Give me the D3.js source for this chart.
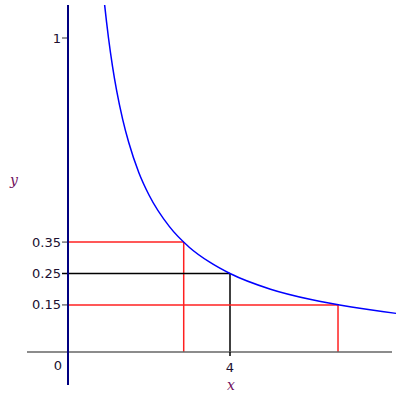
<!DOCTYPE html>
<html>
<head>
<meta charset="utf-8">
<script src="https://cdn.jsdelivr.net/npm/d3@7"></script>
<style>
  body { margin: 0; background: #fff; }
  text { font-family: "DejaVu Sans", Verdana, sans-serif; font-size: 13px; fill: #201030; }
  .axlabel { font-style: italic; fill: #701060; font-family: "DejaVu Serif", serif; font-size: 14px; }
</style>
</head>
<body>
<script>
// curve points (y = 1/x)
var curveX = [0.905, 0.95, 1, 1.1, 1.2, 1.35, 1.5, 1.75, 2, 2.5, 3, 3.5, 4, 5, 6, 7, 8.1];
var curveY = [1.105, 1.053, 1, 0.909, 0.833, 0.741, 0.667, 0.571, 0.5, 0.4, 0.333, 0.286, 0.25, 0.2, 0.167, 0.143, 0.123];

// guide lines
var guideX = [2.857, 4, 6.667];
var guideY = [0.35, 0.25, 0.15];
var guideCol = ["#ff2020", "#000", "#ff2020"];

// tick labels
var yTicks = [0.15, 0.25, 0.35, 1];
var yTickLabels = ["0.15", "0.25", "0.35", "1"];
var xTicks = [4];
var xTickLabels = ["4"];

var width = 400, height = 400;

var svg = d3.select("body").append("svg")
	.attr("width", width)
	.attr("height", height);

// scales: 0 -> 68px, 4 -> 230px ; 0 -> 352px, 1 -> 38px
var x = d3.scaleLinear().domain([0, 4]).range([68, 230]);
var y = d3.scaleLinear().domain([0, 1]).range([352, 38]);

// guide lines
guideX.forEach(function(gx, i) {
	svg.append("line")
		.attr("x1", x(0)).attr("x2", x(gx))
		.attr("y1", y(guideY[i])).attr("y2", y(guideY[i]))
		.attr("stroke", guideCol[i]).attr("stroke-width", 1.5);
	svg.append("line")
		.attr("x1", x(gx)).attr("x2", x(gx))
		.attr("y1", y(guideY[i])).attr("y2", y(0))
		.attr("stroke", guideCol[i]).attr("stroke-width", 1.5);
});

// x axis
svg.append("line")
	.attr("x1", 27).attr("x2", 392)
	.attr("y1", y(0)).attr("y2", y(0))
	.attr("stroke", "#666").attr("stroke-width", 1.5);

// x ticks
svg.selectAll(".xtick")
	.data(xTicks)
	.enter().append("line")
		.attr("x1", function(d) { return x(d); })
		.attr("x2", function(d) { return x(d); })
		.attr("y1", y(0)).attr("y2", y(0) + 4)
		.attr("stroke", "#000").attr("stroke-width", 1.5);

svg.selectAll(".xlab")
	.data(xTicks)
	.enter().append("text")
		.attr("x", function(d) { return x(d); })
		.attr("y", y(0) + 20)
		.attr("text-anchor", "middle")
		.text(function(d, i) { return xTickLabels[i]; });

// y ticks
svg.selectAll(".ytick")
	.data(yTicks)
	.enter().append("line")
		.attr("x1", x(0) - 6).attr("x2", x(0))
		.attr("y1", function(d) { return y(d); })
		.attr("y2", function(d) { return y(d); })
		.attr("stroke", function(d) { return d === 0.25 ? "#000" : "#777"; })
		.attr("stroke-width", 1.5);

svg.selectAll(".ylab")
	.data(yTicks)
	.enter().append("text")
		.attr("x", x(0) - 7)
		.attr("y", function(d) { return y(d); })
		.attr("dy", "0.35em")
		.attr("text-anchor", "end")
		.text(function(d, i) { return yTickLabels[i]; });

// origin label
svg.append("text")
	.attr("x", x(0) - 6)
	.attr("y", y(0) + 18)
	.attr("text-anchor", "end")
	.text("0");

// curve
var pts = curveX.map(function(d, i) { return [d, curveY[i]]; });
svg.append("path")
	.datum(pts)
	.attr("fill", "none")
	.attr("stroke", "#0000ff")
	.attr("stroke-width", 1.5)
	.attr("d", d3.line()
		.x(function(d) { return x(d[0]); })
		.y(function(d) { return y(d[1]); })
		.curve(d3.curveMonotoneX));

// y axis
svg.append("line")
	.attr("x1", x(0)).attr("x2", x(0))
	.attr("y1", 5).attr("y2", 385)
	.attr("stroke", "#000080").attr("stroke-width", 2);

// axis names
svg.append("text")
	.attr("class", "axlabel")
	.attr("x", 231)
	.attr("y", 390)
	.attr("text-anchor", "middle")
	.text("x");

svg.append("text")
	.attr("class", "axlabel")
	.attr("x", 14)
	.attr("y", 185)
	.attr("text-anchor", "middle")
	.text("y");
</script>
</body>
</html>
